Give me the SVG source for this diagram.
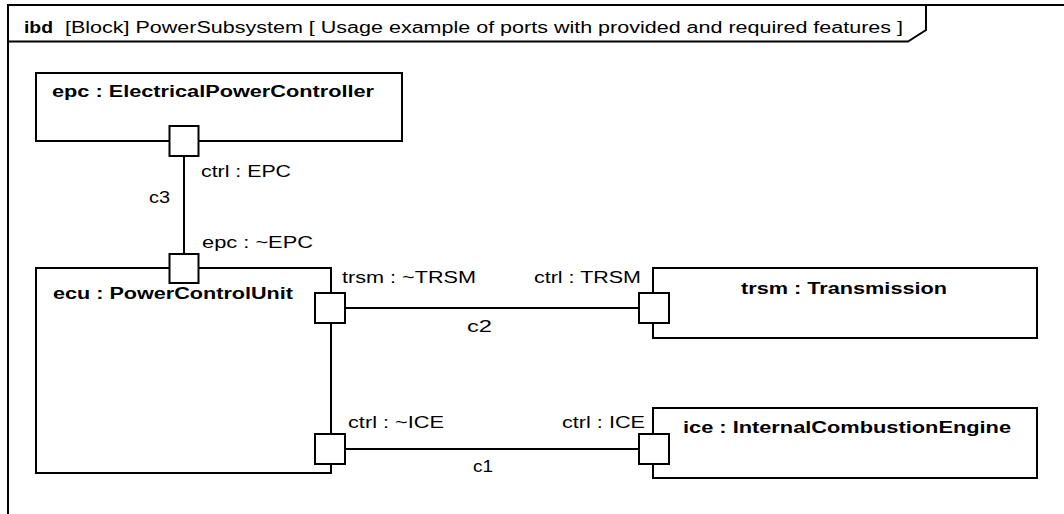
<svg xmlns="http://www.w3.org/2000/svg" width="1064" height="514" viewBox="0 0 1064 514">
<style>
.ln{fill:none;stroke:#000;stroke-width:2}
.blk{fill:#fff;stroke:#000;stroke-width:2}
.port{fill:#fff;stroke:#000;stroke-width:2}
text{font-family:"Liberation Sans",Arial,sans-serif;font-size:16px;fill:#000}
.b{font-weight:bold}
</style>
<rect width="1064" height="514" fill="#fff"/>
<g id="frame">
<path class="ln" d="M8,514 V5 H1064"/>
<path class="ln" d="M8,41.5 H908 L926,30 V5"/>
<text class="b" x="24" y="33" textLength="29" lengthAdjust="spacingAndGlyphs">ibd</text>
<text x="65" y="33" textLength="838" lengthAdjust="spacingAndGlyphs">[Block] PowerSubsystem [ Usage example of ports with provided and required features ]</text>
</g>
<g id="epc">
<rect class="blk" x="36" y="73" width="366" height="68"/>
<text class="b" x="52" y="97" textLength="322" lengthAdjust="spacingAndGlyphs">epc : ElectricalPowerController</text>
</g>
<g id="ecu">
<rect class="blk" x="36" y="268" width="295" height="205"/>
<text class="b" x="53" y="299" textLength="240" lengthAdjust="spacingAndGlyphs">ecu : PowerControlUnit</text>
</g>
<g id="trsm">
<rect class="blk" x="653" y="268" width="384" height="70"/>
<text class="b" x="741" y="294" textLength="206" lengthAdjust="spacingAndGlyphs">trsm : Transmission</text>
</g>
<g id="ice">
<rect class="blk" x="653" y="408" width="384" height="70"/>
<text class="b" x="683" y="433" textLength="328" lengthAdjust="spacingAndGlyphs">ice : InternalCombustionEngine</text>
</g>
<g id="connectors">
<line class="ln" x1="184" y1="156" x2="184" y2="254"/>
<line class="ln" x1="345" y1="308" x2="639" y2="308"/>
<line class="ln" x1="345" y1="449" x2="639" y2="449"/>
<text x="149" y="203" textLength="21" lengthAdjust="spacingAndGlyphs">c3</text>
<text x="467" y="332" textLength="25" lengthAdjust="spacingAndGlyphs">c2</text>
<text x="473" y="472" textLength="20" lengthAdjust="spacingAndGlyphs">c1</text>
</g>
<g id="port-epc-ctrl">
<rect class="port" x="169.5" y="126" width="29" height="30"/>
<text x="201" y="177" textLength="90" lengthAdjust="spacingAndGlyphs">ctrl : EPC</text>
</g>
<g id="port-ecu-epc">
<rect class="port" x="169.5" y="254" width="29" height="29"/>
<text x="202" y="248" textLength="111" lengthAdjust="spacingAndGlyphs">epc : ~EPC</text>
</g>
<g id="port-ecu-trsm">
<rect class="port" x="315" y="293" width="30" height="30"/>
<text x="342" y="283" textLength="134" lengthAdjust="spacingAndGlyphs">trsm : ~TRSM</text>
</g>
<g id="port-ecu-ctrl">
<rect class="port" x="315" y="434" width="30" height="30"/>
<text x="348" y="428" textLength="96" lengthAdjust="spacingAndGlyphs">ctrl : ~ICE</text>
</g>
<g id="port-trsm-ctrl">
<rect class="port" x="639" y="293" width="30" height="30"/>
<text x="534" y="283" textLength="107" lengthAdjust="spacingAndGlyphs">ctrl : TRSM</text>
</g>
<g id="port-ice-ctrl">
<rect class="port" x="639" y="434" width="30" height="30"/>
<text x="562" y="428" textLength="83" lengthAdjust="spacingAndGlyphs">ctrl : ICE</text>
</g>
</svg>
